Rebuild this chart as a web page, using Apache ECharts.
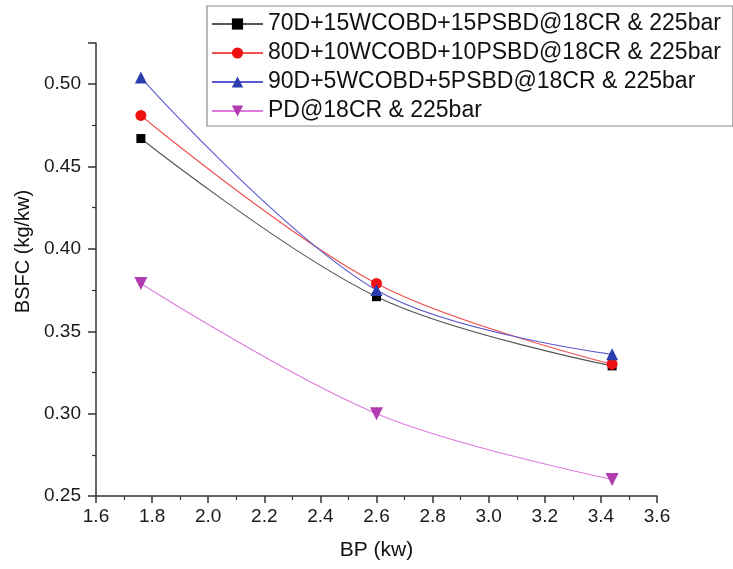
<!DOCTYPE html>
<html>
<head>
<meta charset="utf-8">
<script src="https://cdn.jsdelivr.net/npm/echarts@6/dist/echarts.min.js"></script>
<style>html,body{margin:0;padding:0;background:#fff}#c{width:733px;height:569px}</style>
</head>
<body>
<div id="c"></div>
<script>
const bp = [1.76, 2.60, 3.44];
const names = [
  '70D+15WCOBD+15PSBD@18CR & 225bar',
  '80D+10WCOBD+10PSBD@18CR & 225bar',
  '90D+5WCOBD+5PSBD@18CR & 225bar',
  'PD@18CR & 225bar'
];
const bsfc70 = [0.467, 0.371, 0.329];
const bsfc80 = [0.481, 0.379, 0.330];
const bsfc90 = [0.504, 0.375, 0.336];
const bsfcPD = [0.379, 0.300, 0.260];
const xTicks = [1.6, 1.8, 2.0, 2.2, 2.4, 2.6, 2.8, 3.0, 3.2, 3.4, 3.6];
const yTicks = [0.25, 0.30, 0.35, 0.40, 0.45, 0.50];

const font = "'Liberation Sans', Arial, sans-serif";
const pair = (vals) => bp.map((x, i) => [x, vals[i]]);

const styles = [
  {sym: 'rect', size: 9, mark: '#000000', line: '#555555'},
  {sym: 'circle', size: 11, mark: '#ee1111', line: '#f05050'},
  {sym: 'triangle', size: 12, mark: '#2a3cae', line: '#5a5ad0'},
  {sym: 'path://M0,0 L10,0 L5,9 Z', size: 13, mark: '#b03cb0', line: '#dd7cdd'}
];
const datas = [bsfc70, bsfc80, bsfc90, bsfcPD];

const series = datas.map((d, i) => ({
  name: names[i],
  type: 'line',
  data: pair(d),
  smooth: 0.35,
  symbol: styles[i].sym,
  symbolSize: styles[i].size,
  itemStyle: {color: styles[i].mark},
  lineStyle: {color: styles[i].line, width: 1.1},
  z: 2 + i
}));

const chart = echarts.init(document.getElementById('c'), null, {renderer: 'canvas'});
chart.setOption({
  backgroundColor: '#ffffff',
  animation: false,
  grid: {left: 96, right: 76, top: 43, bottom: 73},
  legend: {
    orient: 'vertical',
    left: 207,
    top: 6,
    padding: [6, 12, 3, 4],
    itemGap: 5,
    itemWidth: 51,
    itemHeight: 14,
    borderColor: '#8a8a8a',
    borderWidth: 1.2,
    backgroundColor: '#ffffff',
    textStyle: {fontFamily: font, fontSize: 23, color: '#111', lineHeight: 24},
    data: names
  },
  xAxis: {
    type: 'value',
    min: xTicks[0],
    max: xTicks[xTicks.length - 1],
    interval: 0.2,
    name: 'BP (kw)',
    nameLocation: 'middle',
    nameGap: 44,
    nameTextStyle: {fontFamily: font, fontSize: 21, color: '#111'},
    axisLine: {show: true, lineStyle: {color: '#333', width: 1.5}},
    axisTick: {show: true, inside: false, length: 7, lineStyle: {color: '#333', width: 1.5}},
    minorTick: {show: true, splitNumber: 2, length: 4, lineStyle: {color: '#333', width: 1.2}},
    splitLine: {show: false},
    axisLabel: {fontFamily: font, fontSize: 19, color: '#1a1a1a', margin: 11,
      formatter: v => v.toFixed(1)}
  },
  yAxis: {
    type: 'value',
    min: yTicks[0],
    max: 0.525,
    interval: 0.05,
    name: 'BSFC (kg/kw)',
    nameLocation: 'middle',
    nameGap: 62,
    nameTextStyle: {fontFamily: font, fontSize: 20, color: '#111', padding: [0, 0, 0, 36]},
    axisLine: {show: true, lineStyle: {color: '#333', width: 1.5}},
    axisTick: {show: true, inside: false, length: 8, lineStyle: {color: '#333', width: 1.5}},
    minorTick: {show: true, splitNumber: 2, length: 4, lineStyle: {color: '#333', width: 1.2}},
    splitLine: {show: false},
    axisLabel: {fontFamily: font, fontSize: 19, color: '#1a1a1a', margin: 15,
      formatter: v => (yTicks.some(t => Math.abs(t - v) < 1e-6) ? v.toFixed(2) : '')}
  },
  series: series
});
</script>
</body>
</html>
